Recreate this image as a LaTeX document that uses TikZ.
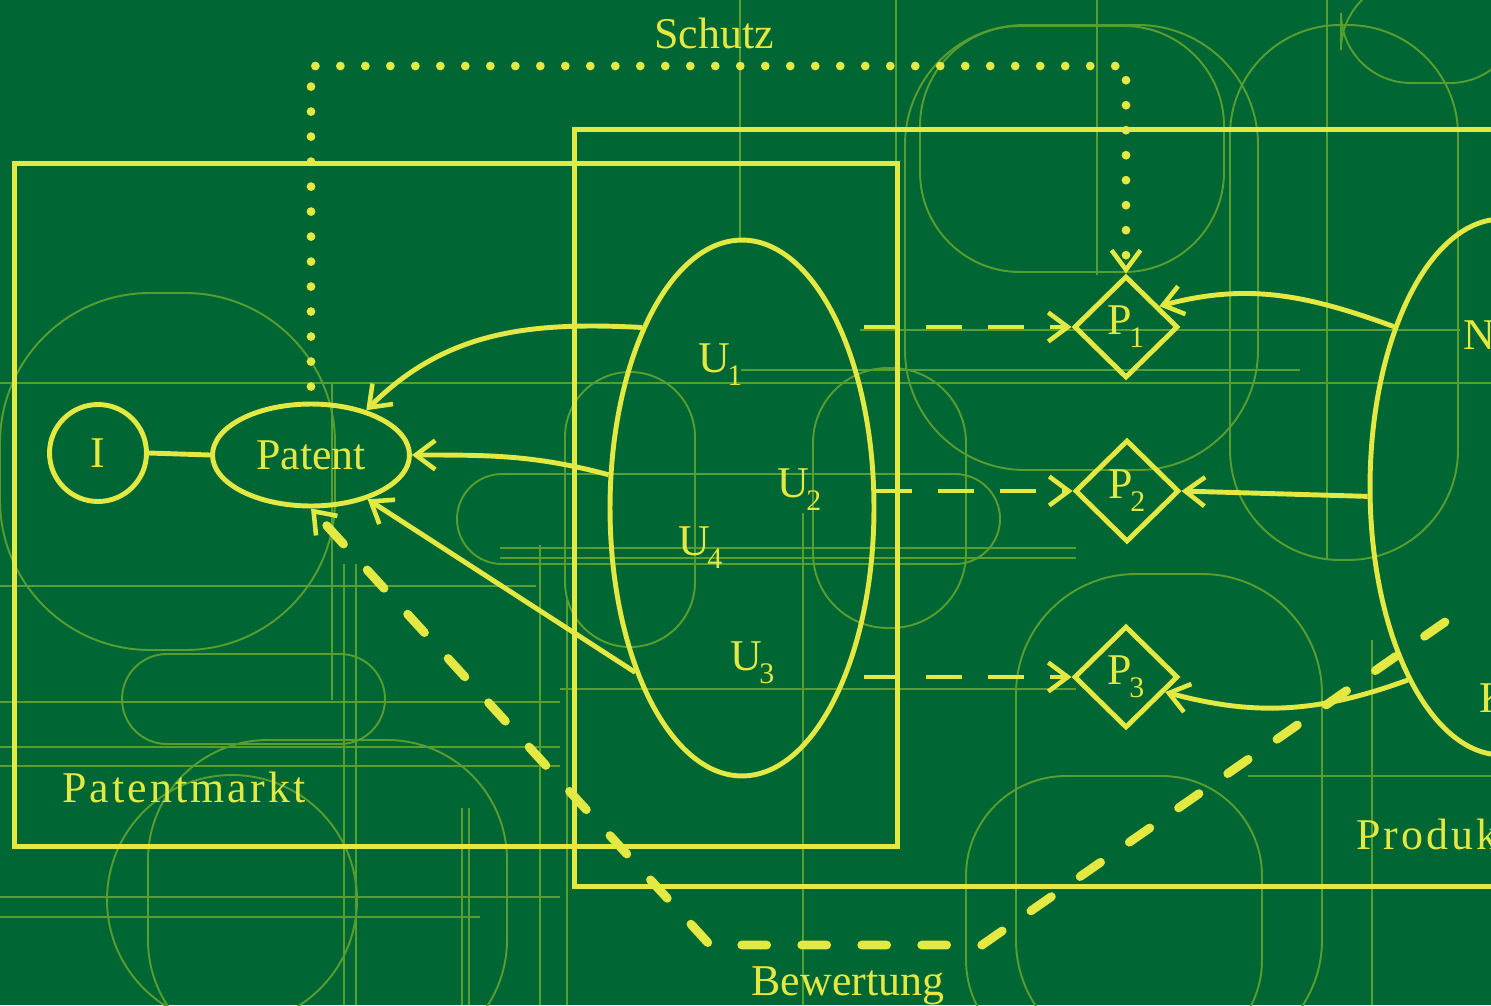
\documentclass[tikz,border=0pt]{standalone}
\usepackage{fontspec}
\setmainfont{Liberation Serif}
\usetikzlibrary{arrows.meta,calc,shapes.geometric}
\definecolor{bggreen}{RGB}{0,102,51}
\definecolor{yl}{RGB}{228,232,66}
\definecolor{faint}{RGB}{86,158,48}
\newcommand{\subidx}[2]{#1\kern-0.06em\raisebox{-0.3em}{\fontsize{17}{17}\selectfont #2}}

\begin{document}
\begin{tikzpicture}[
    x=0.02cm, y=0.02cm,
    every node/.style={font=\fontsize{25}{30}\selectfont,text=yl,inner sep=0pt},
    line/.style={draw=yl,line width=2.8pt},
    oval/.style={line,ellipse,inner sep=0pt},
    prod/.style={line,diamond,minimum width=2.08cm,minimum height=2.04cm,inner sep=0pt},
    market/.style={line,rectangle,inner sep=0pt},
    arr/.style={line,-{Straight Barb[length=3.9mm,width=5.8mm,line width=2.6pt 0]}},
    offer/.style={arr,dash pattern=on 0.72cm off 0.52cm},
    protect/.style={arr,line width=5pt,line cap=round,dash pattern=on 0pt off 0.5cm},
    rate/.style={arr,line width=5pt,line cap=round,dash pattern=on 0.5cm off 0.7cm},
    deco/.style={draw=faint,line width=1.1pt}
]
\useasboundingbox (0,0) rectangle (1491,-1005);
\fill[bggreen] (0,0) rectangle (1491,-1005);
\clip (0,0) rectangle (1491,-1005);

% background pattern
\draw[deco] (0,-383) -- (1491,-383);
\draw[deco] (860,-330) -- (1460,-330);
\draw[deco] (741,-370) -- (1300,-370);
\draw[deco] (0,-586) -- (536,-586);
\draw[deco] (500,-548) -- (1076,-548);
\draw[deco] (500,-558) -- (1076,-558);
\draw[deco] (560,-689) -- (1076,-689);
\draw[deco] (0,-702) -- (560,-702);
\draw[deco] (0,-747) -- (560,-747);
\draw[deco] (0,-766) -- (560,-766);
\draw[deco] (1248,-776) -- (1491,-776);
\draw[deco] (0,-897) -- (560,-897);
\draw[deco] (0,-917) -- (480,-917);
\draw[deco] (740,0) -- (740,-240);
\draw[deco] (896,0) -- (896,-163);
\draw[deco] (1097,0) -- (1097,-275);
\draw[deco] (1327,0) -- (1327,-560);
\draw[deco] (1372,-640) -- (1372,-1005);
\draw[deco] (332,-383) -- (332,-700);
\draw[deco] (344,-564) -- (344,-1005);
\draw[deco] (356,-564) -- (356,-1005);
\draw[deco] (462,-808) -- (462,-1005);
\draw[deco] (469,-808) -- (469,-1005);
\draw[deco] (540,-545) -- (540,-1005);
\draw[deco] (567,-600) -- (567,-1005);
\draw[deco] (803,-513) -- (803,-1005);
\draw[deco,rounded corners=3cm] (0,-293) rectangle (335,-650);
\draw[deco,rounded corners=0.9cm] (122,-654) rectangle (385,-744);
\draw[deco,rounded corners=0.9cm] (457,-474) rectangle (1000,-564);
\draw[deco,rounded corners=2.4cm] (905,-25) rectangle (1258,-470);
\draw[deco,rounded corners=2cm] (920,-26) rectangle (1224,-272);
\draw[deco,rounded corners=2.4cm] (1016,-574) rectangle (1322,-1060);
\draw[deco,rounded corners=2cm] (966,-776) rectangle (1262,-1060);
\draw[deco,rounded corners=1.4cm] (1341,20) rectangle (1520,-83);
\draw[deco,rounded corners=2.2cm] (1230,-25) rectangle (1458,-560);
\draw[deco,rounded corners=1.3cm] (565,-372) rectangle (695,-647);
\draw[deco,rounded corners=1.5cm] (813,-368) rectangle (966,-628);
\draw[deco,rounded corners=2.4cm] (148,-740) rectangle (507,-1060);
\draw[deco] (232,-900) circle (2.5cm);

\node[market,minimum width=17.68cm,minimum height=13.68cm] (patmkt) at (456,-505) {};
\node[market,minimum width=19.7cm,minimum height=15.16cm] (prodmkt) at (1067,-508) {};

\node[line,circle,minimum size=1.94cm] (inv) at (98,-453) {I};
\node[oval,minimum width=3.94cm,minimum height=2.04cm] (patent) at (311,-455) {Patent};
\node[oval,minimum width=5.28cm,minimum height=10.72cm] (firms) at (742,-508) {};
\node[oval,minimum width=5.28cm,minimum height=10.72cm] (buyers) at (1502,-487) {};

\node[anchor=base west] (u1) at (698,-372) {\subidx{U}{1}};
\node[anchor=base west] (u2) at (777,-497) {\subidx{U}{2}};
\node[anchor=base west] (u4) at (678,-555) {\subidx{U}{4}};
\node[anchor=base west] (u3) at (730,-670) {\subidx{U}{3}};

\node[prod] (p1) at (1126,-327) {\subidx{P}{1}};
\node[prod] (p2) at (1127,-491) {\subidx{P}{2}};
\node[prod] (p3) at (1126,-677) {\subidx{P}{3}};

\node[anchor=base west] (n1) at (1463,-349) {N};
\node[anchor=base west] (k1) at (1479,-712) {K};

\node (schutz) at (714,-33) {Schutz};
\node[anchor=base] (bew) at (848,-995) {Bewertung};
\node[anchor=base west] (pmlabel) at (62,-802) {\addfontfeature{LetterSpace=7}Patentmarkt};
\node[anchor=base west] (prlabel) at (1356,-849) {\addfontfeature{LetterSpace=7}Produktmarkt};

\coordinate (rsrc) at (1445,-622);
\coordinate (rturn) at (982,-945);
\coordinate (lturn) at (710,-945);

\draw[line] (inv.east) -- (patent.west);
\draw[arr] (firms.119) to[out=177,in=45] (patent.39);
\draw[arr] (firms.166) to[out=165,in=0] (patent.east);
\draw[arr] (firms.-123) -- (patent.-38);

\draw[offer] ($(firms.east |- p1.west)+(-12,0)$) -- (p1.west);
\draw[offer] (firms.east |- p2.west) -- (p2.west);
\draw[offer] ($(firms.east |- p3.west)+(-12,0)$) -- (p3.west);

\draw[arr] (buyers.124) to[out=160,in=15] (p1.32);
\draw[arr] (buyers.184) -- (p2.east);
\draw[arr] (buyers.244) to[out=200,in=-15] (p3.-21);

\draw[protect] ([yshift=0.3cm]patent.north) |- (p1.north |- 0,-66) -- (p1.north);
\draw[rate] (rsrc) -- (rturn) -- (lturn) -- (patent.south);
\end{tikzpicture}
\end{document}
